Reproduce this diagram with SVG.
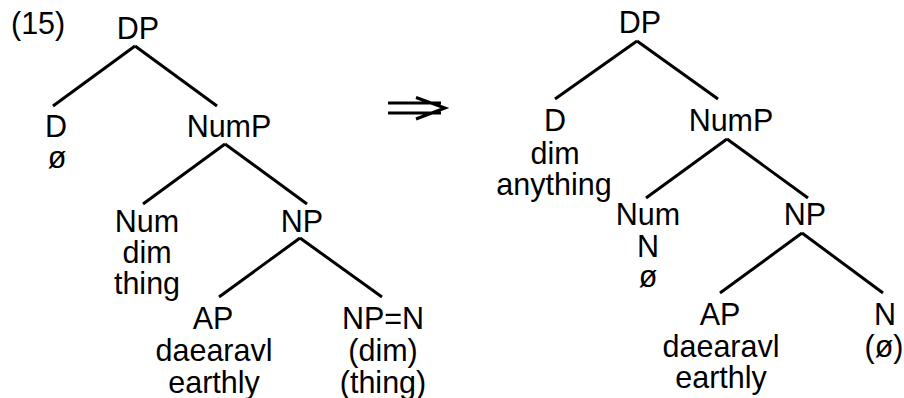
<svg xmlns="http://www.w3.org/2000/svg" width="904" height="398" viewBox="0 0 904 398">
<style>
text{font-family:"Liberation Sans",Arial,Helvetica,sans-serif;font-size:30.5px;fill:#000;text-anchor:middle}
.lbl{text-anchor:start}
.edge{stroke:#000;stroke-width:3;fill:none}
.arr{stroke:#000;stroke-width:3;fill:none;stroke-linejoin:miter}
</style>
<rect width="904" height="398" fill="#fff"/>
<g id="connectors">
<line class="edge" x1="135" y1="46" x2="53" y2="106"/>
<line class="edge" x1="135" y1="46" x2="217" y2="106"/>
<line class="edge" x1="225" y1="144" x2="143" y2="204"/>
<line class="edge" x1="225" y1="144" x2="307" y2="204"/>
<line class="edge" x1="300" y1="238" x2="219" y2="297"/>
<line class="edge" x1="300" y1="238" x2="382" y2="297"/>
<line class="edge" x1="637" y1="41" x2="555" y2="99"/>
<line class="edge" x1="637" y1="41" x2="718" y2="99"/>
<line class="edge" x1="727" y1="139" x2="646" y2="198"/>
<line class="edge" x1="727" y1="139" x2="808" y2="198"/>
<line class="edge" x1="802" y1="233" x2="720" y2="293"/>
<line class="edge" x1="802" y1="233" x2="883" y2="293"/>
</g>
<text id="ex-number" class="lbl" x="11" y="34">(15)</text>
<g id="arrow">
<path class="arr" d="M388 103H441M388 113H441M416 97.5L445 108L416 119"/>
</g>
<g id="L-DP"><text x="138" y="39">DP</text></g>
<g id="L-D"><text x="56" y="137">D</text><text x="57" y="168">ø</text></g>
<g id="L-NumP"><text x="229" y="137">NumP</text></g>
<g id="L-Num"><text x="147" y="232">Num</text><text x="147" y="263">dim</text><text x="147" y="294">thing</text></g>
<g id="L-NP"><text x="302" y="232">NP</text></g>
<g id="L-AP"><text x="213" y="329">AP</text><text x="214" y="361">daearavl</text><text x="214" y="393">earthly</text></g>
<g id="L-NPN"><text x="383" y="329">NP=N</text><text x="383" y="361">(dim)</text><text x="383" y="393">(thing)</text></g>
<g id="R-DP"><text x="640" y="33">DP</text></g>
<g id="R-D"><text x="555" y="131">D</text><text x="555" y="164">dim</text><text x="554" y="195">anything</text></g>
<g id="R-NumP"><text x="731" y="131">NumP</text></g>
<g id="R-Num"><text x="648" y="225">Num</text><text x="648" y="257">N</text><text x="648" y="287">ø</text></g>
<g id="R-NP"><text x="805" y="225">NP</text></g>
<g id="R-AP"><text x="720" y="325">AP</text><text x="721" y="357">daearavl</text><text x="721" y="388">earthly</text></g>
<g id="R-N"><text x="885" y="325">N</text><text x="884" y="357">(ø)</text></g>
</svg>
